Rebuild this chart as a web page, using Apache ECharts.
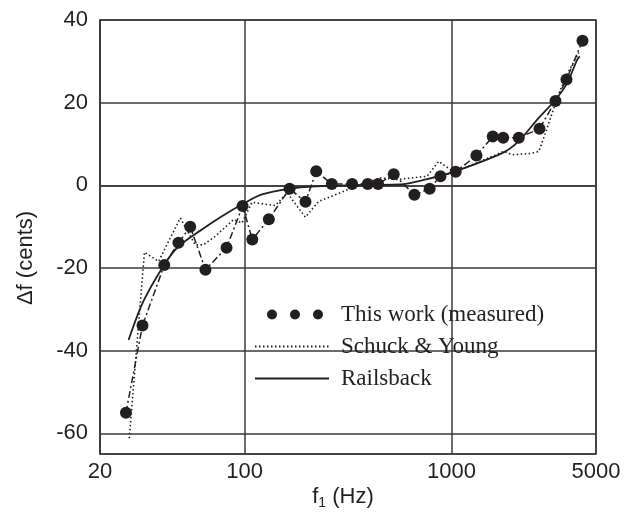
<!DOCTYPE html>
<html>
  <head>
    <meta charset="utf-8">
    <title>Inharmonicity deviation</title>
    <style>
      html, body { margin: 0; padding: 0; background: #fff; }
    </style>
  </head>
  <body>
    <div id="main" style="width: 624px;height:522px;"></div>
  </body>
  <script type="text/javascript" src="https://cdn.jsdelivr.net/npm/echarts@6/dist/echarts.min.js"></script>
  <script type="text/javascript">
      // measured points (f1 in Hz, deviation in cents)
      var measuredFreq = [26.7, 32.1, 40.9, 47.9, 54.6, 64.7, 81.8, 97.8, 109, 131,
                          165, 197, 222, 264, 331, 394, 442, 526, 662, 785,
                          885, 1049, 1321, 1584, 1779, 2117, 2665, 3185, 3600, 4303];
      var measuredCents = [-55.0, -33.9, -19.3, -13.9, -10.0, -20.4, -15.1, -5.0, -13.1, -8.2,
                           -0.8, -4.0, 3.4, 0.3, 0.3, 0.3, 0.3, 2.7, -2.3, -0.8,
                           2.2, 3.3, 7.2, 11.8, 11.5, 11.5, 13.7, 20.4, 25.6, 35.0];

      // Schuck & Young (dotted)
      var schuckFreq = [27.7, 32.8, 38.4, 48.9, 57.7, 63.3, 72.2, 88.5, 97.1, 108.6,
                        140.8, 160.4, 196.7, 228, 274.7, 330.8, 391.1, 453.4, 546.2, 762.9,
                        868, 989, 1049, 1789, 1967, 2411, 2645, 2850, 3071, 3368, 3693, 4129];
      var schuckCents = [-61.2, -16.2, -18.4, -7.9, -14.4, -14.4, -12.3, -8.3, -9.1, -4.1,
                         -4.9, -1.8, -7.7, -3.9, -2.3, -0.6, 0.6, 1.8, 1.4, 2.2,
                         5.8, 3.8, 3.3, 8.2, 7.4, 7.7, 8.2, 12.7, 17.5, 23.2, 27.6, 32.1];

      // Railsback curve (solid)
      var railsFreq = [27.5, 32.4, 40.9, 47.9, 62.2, 77.7, 98.9, 121.4, 166.4, 211.9,
                       383.7, 566.6, 762.9, 989, 1759, 2117, 2598, 3185, 3629, 4057, 4175];
      var railsCents = [-37.4, -28.1, -19.2, -14.8, -10.7, -7.5, -4.4, -2.2, -0.8, -0.3,
                        0.1, 0.2, 1.5, 3.0, 7.8, 10.7, 15.9, 20.7, 24.8, 30.4, 31.2];

      var xTicks = [20, 100, 1000, 5000];
      var legendNames = ['This work (measured)', 'Schuck & Young', 'Railsback'];

      function pairs(xs, ys) {
          return xs.map(function (x, i) { return [x, ys[i]]; });
      }

      var ink = '#231f20';
      var gridInk = '#3a3a3a';
      var sans = '"Liberation Sans", Arial, sans-serif';
      var serif = '"Liberation Serif", "Times New Roman", serif';

      // three dots for the legend; the two lone moves fix the box to 74x12
      var dotsIcon = 'path://M0,0 M74,12 ' +
          'M12,6 A5,5 0 1 1 22,6 A5,5 0 1 1 12,6 Z ' +
          'M35,6 A5,5 0 1 1 45,6 A5,5 0 1 1 35,6 Z ' +
          'M58,6 A5,5 0 1 1 68,6 A5,5 0 1 1 58,6 Z';

      var myChart = echarts.init(document.getElementById('main'));

      myChart.setOption({
          animation: false,
          backgroundColor: '#fff',
          grid: {
              left: 100, right: 28, top: 20, bottom: 68,
              show: true, borderColor: gridInk, borderWidth: 1.5
          },
          legend: {
              orient: 'vertical',
              left: 254, top: 303,
              padding: 0,
              itemWidth: 74, itemHeight: 12, itemGap: 9,
              textStyle: { fontFamily: serif, fontSize: 23, color: ink, padding: [0, 0, 0, 7] },
              data: [
                  { name: legendNames[0], icon: dotsIcon },
                  { name: legendNames[1], itemStyle: { opacity: 0 } },
                  { name: legendNames[2], itemStyle: { opacity: 0 } }
              ]
          },
          xAxis: {
              type: 'log',
              logBase: 10,
              min: xTicks[0],
              max: xTicks[xTicks.length - 1],
              axisLine: { show: true, lineStyle: { color: gridInk, width: 1.5 } },
              axisTick: { show: false },
              splitLine: { show: true, lineStyle: { color: gridInk, width: 1.5 } },
              minorSplitLine: { show: false },
              axisLabel: {
                  margin: 7, fontFamily: sans, fontSize: 22, color: ink,
                  showMinLabel: true, showMaxLabel: true,
                  formatter: function (v) { return String(Math.round(v)); }
              }
          },
          yAxis: {
              type: 'value',
              min: -65,
              max: 40,
              axisLine: { show: true, lineStyle: { color: gridInk, width: 1.5 } },
              axisTick: { show: false },
              splitLine: { show: true, lineStyle: { color: gridInk, width: 1.5 } },
              axisLabel: {
                  margin: 12, fontFamily: sans, fontSize: 22, color: ink,
                  showMinLabel: false
              }
          },
          graphic: [
              {
                  type: 'text', x: 26, y: 258, rotation: Math.PI / 2,
                  style: {
                      text: 'Δf (cents)', fontFamily: sans, fontSize: 22, fill: ink,
                      align: 'center', verticalAlign: 'middle'
                  }
              },
              {
                  type: 'text', x: 343, y: 497,
                  style: {
                      text: '{a|f}{b|1}{a| (Hz)}',
                      align: 'center', verticalAlign: 'middle',
                      rich: {
                          a: { fontFamily: sans, fontSize: 22, fill: ink, color: ink },
                          b: { fontFamily: sans, fontSize: 14, fill: ink, color: ink, padding: [12, 0, 0, 0] }
                      }
                  }
              }
          ],
          series: [
              {
                  name: 'measured line',
                  type: 'line',
                  data: pairs(measuredFreq, measuredCents),
                  symbol: 'none',
                  z: 3,
                  lineStyle: { color: ink, width: 1.5, type: [7, 3, 2, 3] }
              },
              {
                  name: legendNames[1],
                  type: 'line',
                  data: pairs(schuckFreq, schuckCents),
                  symbol: 'none',
                  z: 2,
                  itemStyle: { color: ink },
                  lineStyle: { color: ink, width: 1.6, type: [1.5, 2.5] }
              },
              {
                  name: legendNames[2],
                  type: 'line',
                  data: pairs(railsFreq, railsCents),
                  symbol: 'none',
                  smooth: 0.3,
                  z: 2,
                  itemStyle: { color: ink },
                  lineStyle: { color: ink, width: 1.8 }
              },
              {
                  name: legendNames[0],
                  type: 'scatter',
                  data: pairs(measuredFreq, measuredCents),
                  symbol: 'circle',
                  symbolSize: 12,
                  z: 4,
                  itemStyle: { color: ink, opacity: 1 }
              }
          ]
      });
  </script>
</html>
